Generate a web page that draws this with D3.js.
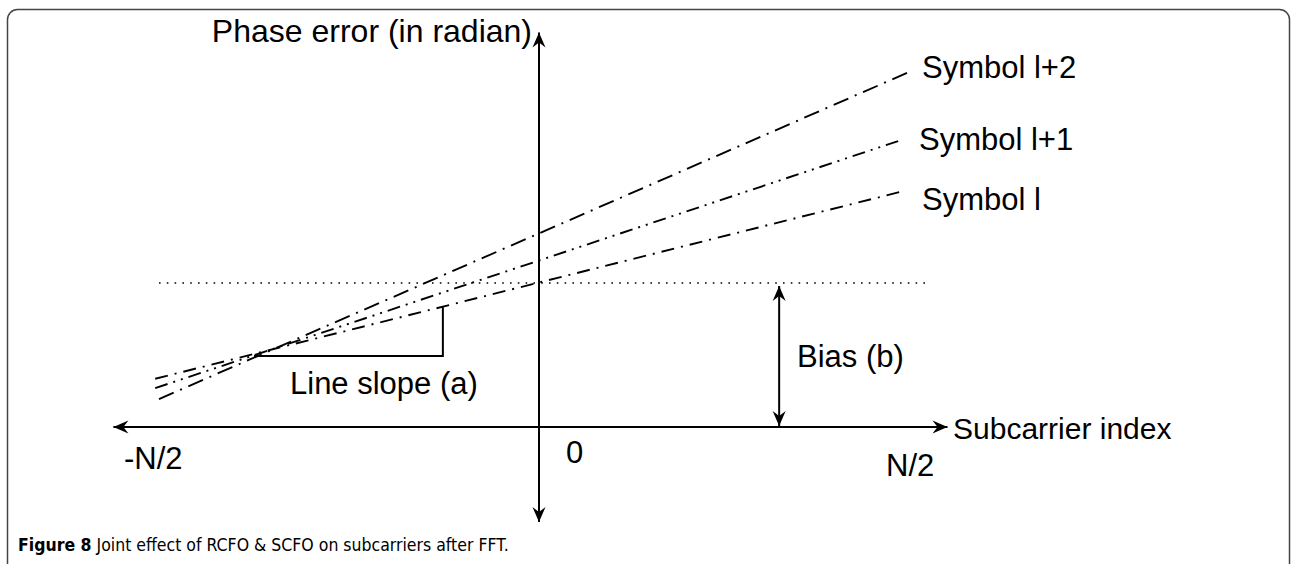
<!DOCTYPE html>
<html>
<head>
    <meta charset="utf-8" />
    <title>Joint effect of RCFO & SCFO</title>
    <style>
        body { margin: 0; background: #fff; }
        text { font-family: "Liberation Sans", Arial, sans-serif; fill: #000; }
    </style>
</head>
<body>
<script src="https://d3js.org/d3.v7.min.js"></script>
<script>

    // subcarrier index runs -N/2 .. N/2 (scaled to -1 .. 1), phase error in units of the bias b
    var symbolNames = ["Symbol l+2", "Symbol l+1", "Symbol l"];
    var symbolLines = [
        [[-1.00, 0.194], [0.974, 2.465]],
        [[-1.01, 0.270], [0.95, 1.990]],
        [[-1.01, 0.335], [0.95, 1.632]]
    ];
    var biasValue = 1.0;
    var biasX = 0.632;
    var slopeTriangle = [[-0.75, 0.493], [-0.253, 0.493], [-0.253, 0.833]];
    var xTickLabels = ["-N/2", "0", "N/2"];

    var width = 1291;
    var height = 564;
    var labelSize = 31;

    var svg = d3.select("body").append("svg")
                .attr("width", width)
                .attr("height", height);

    var x = d3.scaleLinear().domain([-1, 1]).range([159, 919]);
    var y = d3.scaleLinear().domain([0, 1]).range([427, 283]);

    // frame
    svg.append("rect")
       .attr("x", 7.5).attr("y", 9.5)
       .attr("width", 1282).attr("height", 640)
       .attr("rx", 10).attr("ry", 10)
       .attr("fill", "none")
       .attr("stroke", "#444")
       .attr("stroke-width", 1.5);

    var defs = svg.append("defs");
    defs.append("marker")
        .attr("id", "arrow")
        .attr("viewBox", "-16 -8 18 16")
        .attr("refX", 0).attr("refY", 0)
        .attr("markerUnits", "userSpaceOnUse")
        .attr("markerWidth", 18).attr("markerHeight", 16)
        .attr("orient", "auto-start-reverse")
      .append("path")
        .attr("d", "M0,0 L-15,-6.5 L-10,0 L-15,6.5 Z")
        .attr("fill", "#000");

    // axes
    svg.append("line")
       .attr("x1", x(-1.12)).attr("x2", x(1.075))
       .attr("y1", y(0)).attr("y2", y(0))
       .attr("stroke", "#000").attr("stroke-width", 2)
       .attr("marker-start", "url(#arrow)")
       .attr("marker-end", "url(#arrow)");

    svg.append("line")
       .attr("x1", x(0)).attr("x2", x(0))
       .attr("y1", y(-0.66)).attr("y2", y(2.74))
       .attr("stroke", "#000").attr("stroke-width", 2)
       .attr("marker-start", "url(#arrow)")
       .attr("marker-end", "url(#arrow)");

    // bias reference line
    svg.append("line")
       .attr("x1", x(-1)).attr("x2", x(1.02))
       .attr("y1", y(biasValue)).attr("y2", y(biasValue))
       .attr("stroke", "#000").attr("stroke-width", 1.6)
       .attr("stroke-dasharray", "1.6,6.2");

    // symbol lines
    var dashes = ["16,7,2,7", "13,6,2,6,2,6", "13,7,2,7"];
    var line = d3.line().x(d => x(d[0])).y(d => y(d[1]));

    svg.append("g").selectAll("path")
       .data(symbolLines)
       .enter()
       .append("path")
       .attr("d", line)
       .attr("fill", "none")
       .attr("stroke", "#000")
       .attr("stroke-width", 1.9)
       .attr("stroke-dasharray", (d, i) => dashes[i]);

    var labelY = [78, 150, 210];
    svg.append("g").selectAll("text")
       .data(symbolNames)
       .enter()
       .append("text")
       .attr("x", (d, i) => i == 1 ? 919 : 922)
       .attr("y", (d, i) => labelY[i])
       .attr("font-size", labelSize)
       .text(d => d);

    // slope triangle
    svg.append("path")
       .attr("d", line(slopeTriangle))
       .attr("fill", "none")
       .attr("stroke", "#000")
       .attr("stroke-width", 2);

    svg.append("text")
       .attr("x", 290).attr("y", 394)
       .attr("font-size", labelSize)
       .text("Line slope (a)");

    // bias arrow
    svg.append("line")
       .attr("x1", x(biasX)).attr("x2", x(biasX))
       .attr("y1", y(0) - 1).attr("y2", y(biasValue) + 3)
       .attr("stroke", "#000").attr("stroke-width", 2)
       .attr("marker-start", "url(#arrow)")
       .attr("marker-end", "url(#arrow)");

    svg.append("text")
       .attr("x", 797).attr("y", 367)
       .attr("font-size", labelSize)
       .text("Bias (b)");

    // axis titles
    svg.append("text")
       .attr("x", 532).attr("y", 42)
       .attr("text-anchor", "end")
       .attr("font-size", 32)
       .text("Phase error (in radian)");

    svg.append("text")
       .attr("x", 953).attr("y", 439)
       .attr("font-size", 30)
       .text("Subcarrier index");

    // tick labels
    var tickPos = [[124, 469], [566, 463], [886, 476]];
    svg.append("g").selectAll("text")
       .data(xTickLabels)
       .enter()
       .append("text")
       .attr("x", (d, i) => tickPos[i][0])
       .attr("y", (d, i) => tickPos[i][1])
       .attr("font-size", labelSize)
       .text(d => d);

    // caption
    var caption = svg.append("text")
       .attr("x", 18).attr("y", 551)
       .attr("font-size", 17.5)
       .style("font-family", "'Liberation Sans Narrow', 'DejaVu Sans Condensed', sans-serif");
    caption.append("tspan").attr("font-weight", "bold").text("Figure 8");
    caption.append("tspan").text(" Joint effect of RCFO & SCFO on subcarriers after FFT.");

</script>
</body>
</html>
